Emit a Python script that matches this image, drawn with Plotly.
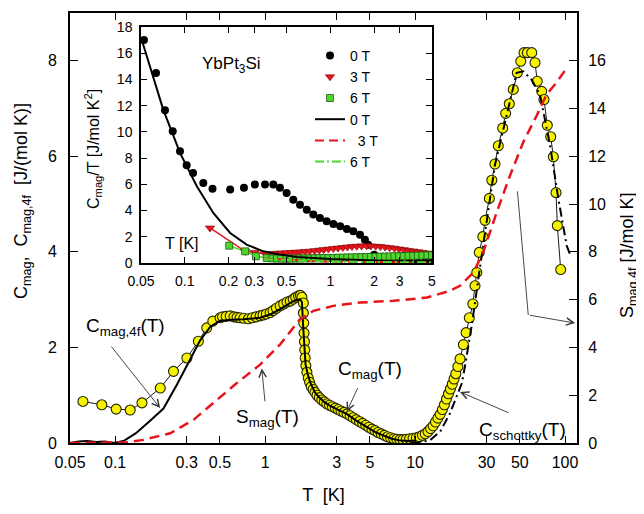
import plotly.graph_objects as go

# ---------------- main plot data ----------------
# C_mag data (yellow circles), T [K] and C [J/(mol K)]
cmag_T = [0.061, 0.0815, 0.1016, 0.126, 0.151, 0.200, 0.245, 0.301, 0.359, 0.408, 0.448, 0.501,
          0.52, 0.55, 0.585, 0.62, 0.65, 0.681, 0.72, 0.774, 0.82, 0.87, 0.926, 0.97, 1.02, 1.08,
          1.13, 1.19, 1.26, 1.33, 1.40, 1.47, 1.54, 1.60, 1.67, 1.72, 1.76,
          1.80, 1.80, 1.81, 1.82, 1.83, 1.84, 1.85, 1.87, 1.90, 1.94, 1.98, 2.03, 2.09, 2.15, 2.22,
          2.30, 2.39, 2.48, 2.58, 2.69, 2.81, 2.94, 3.07, 3.21, 3.36, 3.52, 3.69, 3.87, 4.06, 4.26,
          4.47, 4.69, 4.92, 5.16, 5.41, 5.67, 5.95, 6.24, 6.55, 6.87, 7.21, 7.56, 7.93, 8.30, 8.75,
          9.20, 9.70, 10.2, 10.7, 11.2, 11.7, 12.2, 12.7, 13.2, 13.7, 14.2, 14.7, 15.2, 15.7, 16.2,
          16.7, 17.2, 17.7, 18.2, 18.7, 19.3, 19.95,
          21.0, 21.9, 23.0, 24.3, 25.1, 25.8, 26.8, 28.3, 29.3, 31.3, 32.5, 34.1, 35.9, 38.4, 40.2,
          42.5, 45.2, 48.1, 50.7, 53.3, 56.1, 60.0, 63.1, 65.3, 69.9, 72.4, 76.2, 80.3, 83.6, 87.1,
          88.9, 93.6]
cmag_C = [0.87, 0.80, 0.71, 0.69, 0.84, 1.15, 1.50, 1.78, 2.13, 2.41, 2.55, 2.62,
          2.64, 2.65, 2.66, 2.64, 2.63, 2.62, 2.61, 2.60, 2.62, 2.64, 2.66, 2.68, 2.70, 2.73,
          2.77, 2.82, 2.87, 2.91, 2.95, 2.97, 3.01, 3.05, 3.08, 3.09, 3.05,
          2.93, 2.72, 2.51, 2.30, 2.12, 1.95, 1.78, 1.62, 1.48, 1.36, 1.27, 1.18, 1.12, 1.06, 1.00,
          0.95, 0.90, 0.86, 0.82, 0.79, 0.76, 0.73, 0.70, 0.67, 0.64, 0.61, 0.57, 0.53, 0.49, 0.45,
          0.41, 0.37, 0.33, 0.29, 0.26, 0.22, 0.19, 0.16, 0.13, 0.11, 0.09, 0.08, 0.07, 0.07, 0.08,
          0.09, 0.10, 0.11, 0.13, 0.16, 0.19, 0.24, 0.30, 0.36, 0.44, 0.52, 0.60, 0.70, 0.80, 0.92,
          1.03, 1.13, 1.23, 1.34, 1.45, 1.60, 1.76,
          2.06, 2.31, 2.62, 2.91, 3.29, 3.57, 3.99, 4.32, 4.66, 5.12, 5.50, 5.84, 6.22, 6.59, 6.90,
          7.10, 7.40, 7.75, 7.99, 8.17, 8.17, 8.17, 7.96, 7.57, 7.36, 7.19, 6.65, 6.41, 5.99, 5.24,
          4.55, 3.63]

# C_mag,4f (solid black line)
c4f_T = [0.05, 0.057, 0.065, 0.075, 0.085, 0.1, 0.115, 0.137, 0.169, 0.21, 0.258, 0.316, 0.369,
         0.43, 0.50, 0.60, 0.716, 0.926, 1.1, 1.26, 1.54, 1.71, 1.76, 1.79, 1.82, 1.86, 1.92, 2.0,
         2.15, 2.3, 2.5, 2.7, 3.0, 3.5, 4.0, 4.5, 5.0, 5.5, 6.0, 7.0, 8.0, 9.0, 10.0]
c4f_C = [0.0, 0.03, 0.04, 0.02, 0.03, 0.0, 0.05, 0.20, 0.45, 0.72, 1.22, 1.75, 2.15,
         2.43, 2.56, 2.58, 2.59, 2.62, 2.70, 2.80, 2.97, 3.01, 2.95, 2.50, 2.00, 1.65, 1.45, 1.27,
         1.06, 0.95, 0.85, 0.78, 0.71, 0.61, 0.48, 0.38, 0.30, 0.22, 0.17, 0.09, 0.05, 0.04, 0.05]

# C_schottky (dash-dot black line)
csch_T = [9.5, 11.0, 12.6, 14.7, 17.1, 19.0, 20.5, 21.5, 24.0, 26.4, 30.1, 34.1, 40.9, 47.6,
          52.7, 60.0, 68.1, 79.4, 90.2, 102.6, 108.0]
csch_C = [0.0, 0.02, 0.06, 0.24, 0.62, 0.97, 1.25, 1.60, 2.50, 3.43, 4.69, 5.82, 6.87, 7.75,
          7.78, 7.60, 7.29, 6.24, 5.12, 4.13, 3.95]

# S_mag,4f (red dashed, right axis) [J/mol K]
smag_T = [0.05, 0.1, 0.12, 0.154, 0.233, 0.333, 0.452, 0.648, 0.926, 1.26, 1.71, 2.10, 2.85,
          4.30, 7.17, 12.0, 17.1, 19.95, 24.5, 28.5, 35.1, 43.0, 52.7, 64.7, 75.5, 88.1, 100.0]
smag_S = [0.0, 0.0, 0.03, 0.13, 0.41, 0.97, 1.67, 2.51, 3.28, 4.13, 5.18, 5.53, 5.74,
          5.88, 5.95, 6.09, 6.37, 6.58, 7.14, 7.99, 9.67, 11.2, 12.6, 13.7, 14.6, 15.1, 15.6]

main_xtickvals = [0.05, 0.1, 0.3, 0.5, 1, 3, 5, 10, 30, 50, 100]
main_xticktext = ["0.05", "0.1", "0.3", "0.5", "1", "3", "5", "10", "30", "50", "100"]

# ---------------- inset data: C_mag/T [J/mol K^2] ----------------
d0_T = [0.0524, 0.0634, 0.0731, 0.0826, 0.0927, 0.103, 0.114, 0.134, 0.155, 0.205, 0.255, 0.303,
        0.356, 0.406, 0.451, 0.501, 0.557, 0.619, 0.689, 0.764, 0.849, 0.944, 1.05, 1.17, 1.30,
        1.44, 1.60, 1.73, 1.82, 2.0, 2.2, 2.5, 3.0, 3.5, 4.0, 4.5, 5.0]
d0_CT = [17.0, 14.5, 11.65, 10.05, 8.52, 7.46, 6.87, 6.11, 5.67, 5.60, 5.73, 5.98,
         5.98, 5.98, 5.73, 5.34, 4.83, 4.45, 4.07, 3.69, 3.44, 3.18, 2.98, 2.80, 2.60,
         2.42, 2.16, 1.78, 1.40, 0.62, 0.45, 0.32, 0.22, 0.16, 0.11, 0.08, 0.06]

d3_T = [0.149, 0.26, 0.303, 0.356, 0.40, 0.43, 0.46, 0.50, 0.54, 0.58, 0.62, 0.67, 0.72, 0.78,
        0.84, 0.90, 0.97, 1.05, 1.13, 1.22, 1.31, 1.41, 1.52, 1.64, 1.77, 1.90, 2.05, 2.21, 2.38,
        2.56, 2.76, 2.97, 3.2, 3.45, 3.72, 4.0, 4.3, 4.65, 5.0]
d3_CT = [2.67, 0.89, 0.81, 0.71, 0.72, 0.74, 0.76, 0.78, 0.80, 0.82, 0.84, 0.87, 0.90, 0.94,
         0.98, 1.02, 1.06, 1.10, 1.14, 1.18, 1.22, 1.25, 1.28, 1.30, 1.31, 1.30, 1.28, 1.25, 1.21,
         1.17, 1.12, 1.07, 1.02, 0.96, 0.91, 0.86, 0.81, 0.76, 0.72]

d6_T = [0.202, 0.26, 0.308, 0.366, 0.40, 0.43, 0.46, 0.50, 0.54, 0.58, 0.62, 0.67, 0.72, 0.78,
        0.84, 0.90, 0.97, 1.05, 1.13, 1.22, 1.31, 1.41, 1.52, 1.64, 1.77, 1.90, 2.05, 2.21, 2.38,
        2.56, 2.76, 2.97, 3.2, 3.45, 3.72, 4.0, 4.3, 4.65, 5.0]
d6_CT = [1.32, 0.89, 0.51, 0.38, 0.35, 0.34, 0.33, 0.33, 0.33, 0.34, 0.34, 0.35, 0.35, 0.36,
         0.37, 0.38, 0.38, 0.39, 0.40, 0.41, 0.42, 0.43, 0.44, 0.45, 0.46, 0.46, 0.47, 0.48, 0.49,
         0.50, 0.51, 0.52, 0.53, 0.54, 0.55, 0.56, 0.57, 0.58, 0.59]

f0_T = [0.0505, 0.0711, 0.0927, 0.121, 0.157, 0.205, 0.266, 0.347, 0.451, 0.587, 1.0, 1.69, 2.86, 5.0]
f0_CT = [17.05, 11.7, 8.4, 5.85, 3.82, 2.29, 1.40, 0.89, 0.64, 0.46, 0.31, 0.20, 0.13, 0.05]
f3_T = [0.35, 0.5, 0.7, 1.0, 1.5, 2.0, 3.0, 5.0]
f3_CT = [0.35, 0.22, 0.15, 0.10, 0.08, 0.06, 0.04, 0.03]
f6_T = [0.35, 0.5, 0.7, 1.0, 1.5, 2.0, 3.0, 5.0]
f6_CT = [0.30, 0.20, 0.14, 0.10, 0.08, 0.07, 0.06, 0.05]

inset_xtickvals = [0.05, 0.1, 0.2, 0.3, 0.5, 1, 2, 3, 5]
inset_xticktext = ["0.05", "0.1", "0.2", "0.3", "0.5", "1", "2", "3", "5"]

FONT = "Liberation Sans, Arial, Helvetica, sans-serif"
RED = "#e8141c"
GREEN = "#4fd630"
YELLOW = "#f7f200"

fig = go.Figure()

# main traces
fig.add_trace(go.Scatter(x=cmag_T, y=cmag_C, mode="lines+markers",
                         line=dict(color="black", width=0.9),
                         marker=dict(symbol="circle", size=10, color=YELLOW,
                                     line=dict(color="#222200", width=1.1)),
                         showlegend=False, xaxis="x", yaxis="y"))
fig.add_trace(go.Scatter(x=c4f_T, y=c4f_C, mode="lines", line=dict(color="black", width=2),
                         showlegend=False, xaxis="x", yaxis="y"))
fig.add_trace(go.Scatter(x=csch_T, y=csch_C, mode="lines",
                         line=dict(color="black", width=2, dash="9px,4px,2px,4px"),
                         showlegend=False, xaxis="x", yaxis="y"))
fig.add_trace(go.Scatter(x=smag_T, y=smag_S, mode="lines",
                         line=dict(color=RED, width=2.5, dash="10px,6px"),
                         showlegend=False, xaxis="x", yaxis="y2"))

# inset traces
fig.add_trace(go.Scatter(x=d3_T, y=d3_CT, mode="lines", line=dict(color=RED, width=1.5),
                         showlegend=False, xaxis="x3", yaxis="y3"))
fig.add_trace(go.Scatter(x=d6_T, y=d6_CT, mode="lines", line=dict(color=GREEN, width=1.5),
                         showlegend=False, xaxis="x3", yaxis="y3"))
fig.add_trace(go.Scatter(x=d0_T, y=d0_CT, mode="markers", name="0 T",
                         marker=dict(symbol="circle", size=8, color="black"),
                         xaxis="x3", yaxis="y3"))
fig.add_trace(go.Scatter(x=d3_T, y=d3_CT, mode="markers", name="3 T",
                         marker=dict(symbol="triangle-down", size=8, color=RED,
                                     line=dict(color="#7a0000", width=0.6)),
                         xaxis="x3", yaxis="y3"))
fig.add_trace(go.Scatter(x=d6_T, y=d6_CT, mode="markers", name="6 T",
                         marker=dict(symbol="square", size=7, color=GREEN,
                                     line=dict(color="#1d5a10", width=0.8)),
                         xaxis="x3", yaxis="y3"))
fig.add_trace(go.Scatter(x=f0_T, y=f0_CT, mode="lines", name="0 T",
                         line=dict(color="black", width=2), xaxis="x3", yaxis="y3"))
fig.add_trace(go.Scatter(x=f3_T, y=f3_CT, mode="lines", name="  3 T",
                         line=dict(color=RED, width=2, dash="9px,5px"), xaxis="x3", yaxis="y3"))
fig.add_trace(go.Scatter(x=f6_T, y=f6_CT, mode="lines", name="6 T",
                         line=dict(color=GREEN, width=2, dash="9px,3px,2px,3px"),
                         xaxis="x3", yaxis="y3"))

# page-pixel geometry (the page body adds an 8 px offset)
OFF = 8
L, R, T, B = 70, 577, 13, 443          # plot frame in page pixels
W, H = 644 - OFF, 514 - OFF            # figure size
PW, PH = R - L, B - T


def px(xp):
    return (xp - L) / PW


def py(yp):
    return (B - yp) / PH


axis_common = dict(showgrid=False, zeroline=False, showline=True, linecolor="black",
                   ticks="inside", tickcolor="black")

fig.update_layout(
    width=W, height=H,
    margin=dict(l=L - OFF, r=644 - R, t=T - OFF, b=514 - B, pad=0),
    paper_bgcolor="white", plot_bgcolor="white",
    font=dict(family=FONT, color="black", size=16),
    xaxis=dict(axis_common, type="log", range=[-1.301, 2.08], domain=[0, 1],
               tickvals=main_xtickvals, ticktext=main_xticktext, linewidth=2,
               ticklen=7, mirror="ticks", tickfont=dict(size=16), ticklabelstandoff=4,
               title=dict(text="T  [K]", font=dict(size=18), standoff=18), anchor="y",
               automargin=False),
    yaxis=dict(axis_common, range=[0, 9], tickvals=[0, 2, 4, 6, 8], linewidth=2, ticklen=8,
               tickfont=dict(size=16), ticklabelstandoff=8, anchor="x", automargin=False),
    yaxis2=dict(axis_common, range=[0, 18], dtick=2, linewidth=2, ticklen=8, side="right",
                overlaying="y", anchor="x", tickfont=dict(size=16), ticklabelstandoff=6,
                automargin=False),
    xaxis3=dict(axis_common, type="log", range=[-1.301, 0.699],
                domain=[px(141), px(432)], anchor="y3", linewidth=1.5, ticklen=6,
                mirror="ticks", tickvals=inset_xtickvals, ticktext=inset_xticktext,
                tickfont=dict(size=14), ticklabelstandoff=4, automargin=False),
    yaxis3=dict(axis_common, range=[0, 18], dtick=2, domain=[py(263), py(27)], anchor="x3",
                linewidth=1.5, ticklen=6, mirror="ticks", tickfont=dict(size=14),
                ticklabelstandoff=4, automargin=False),
    legend=dict(x=px(310), y=py(40), xanchor="left", yanchor="top",
                bgcolor="rgba(0,0,0,0)", font=dict(size=14), tracegroupgap=0,
                itemwidth=30),
)

ann = []


def label(text, xp, yp, size, angle=0):
    return dict(text=text, xref="paper", yref="paper", x=px(xp), y=py(yp),
                xanchor="center", yanchor="middle", textangle=angle, showarrow=False,
                font=dict(size=size))


# axis titles
ann.append(label("C<sub>mag</sub>,  C<sub>mag,4f</sub>  [J/(mol K)]", 22, 201, 18, -90))
ann.append(label("S<sub>mag,4f</sub> [J/mol K]", 628, 255, 18, -90))
ann.append(label("C<sub>mag</sub>/T [J/mol K<sup>2</sup>]", 93, 149, 16, -90))
# inset labels
ann.append(label("YbPt<sub>3</sub>Si", 231, 65, 17))
ann.append(label("T [K]", 182, 243, 16))
# curve labels
ann.append(label("C<sub>mag,4f</sub>(T)", 125, 327, 19))
ann.append(label("S<sub>mag</sub>(T)", 267, 418, 19))
ann.append(label("C<sub>mag</sub>(T)", 370, 370, 19))
ann.append(label("C<sub>schottky</sub>(T)", 522, 431, 19))

arrow_style = dict(showarrow=True, arrowhead=5, arrowsize=1.6, arrowwidth=0.9,
                   arrowcolor="#333333", xref="x", yref="y", axref="x", ayref="y", text="",
                   standoff=0, startstandoff=0)
ann.append(dict(arrow_style, x=-0.700, y=0.73, ax=-1.033, ay=2.05))
ann.append(dict(arrow_style, x=-0.022, y=1.56, ax=0.0, ay=0.84))
ann.append(dict(arrow_style, x=0.545, y=0.66, ax=0.622, ay=1.18))
ann.append(dict(arrow_style, x=1.300, y=1.07, ax=1.633, ay=0.62))
ann.append(dict(arrow_style, x=1.755, y=2.68, ax=1.682, ay=5.30, arrowhead=0))
ann.append(dict(arrow_style, x=2.067, y=2.51, ax=1.755, ay=2.68))
fig.update_layout(annotations=ann)

fig.write_html("out.html")
